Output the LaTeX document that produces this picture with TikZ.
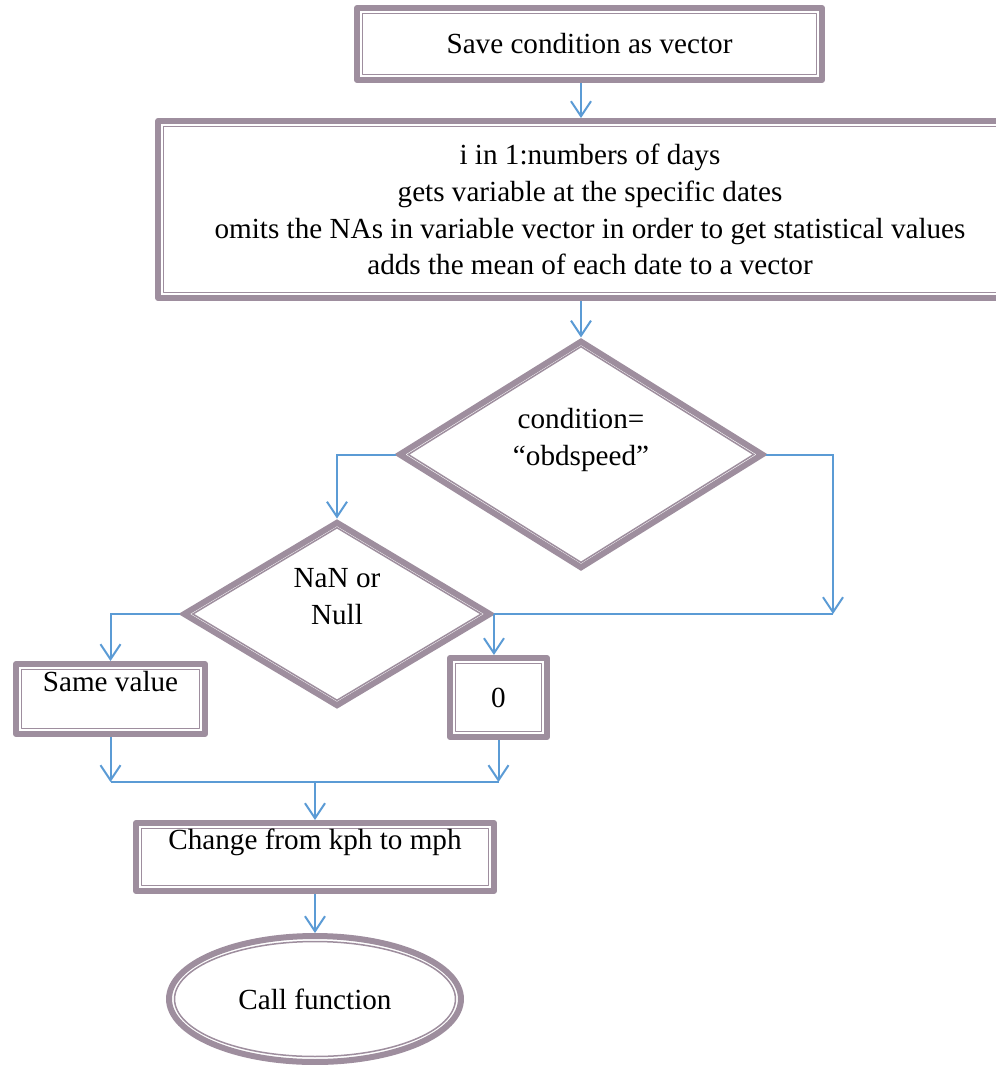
\documentclass[tikz,border=0pt]{standalone}
\usepackage{fontspec}
\setmainfont{Liberation Serif}
\usetikzlibrary{shapes.geometric,arrows.meta}

\definecolor{framegray}{HTML}{9E8E9E}
\definecolor{flowblue}{HTML}{5B9BD5}

\tikzset{
  boxframe/.style={draw=framegray, line width=0.12cm, line join=round, fill=white,
    inner sep=0pt, align=center, font=\fontsize{16.6}{21}\selectfont},
  stepbox/.style={boxframe, rectangle,
    path picture={\draw[framegray, line width=0.03cm]
      ([shift={(0.11cm,-0.11cm)}]path picture bounding box.north west) rectangle
      ([shift={(-0.11cm,0.11cm)}]path picture bounding box.south east);}},
  decision/.style={boxframe, diamond, line join=miter,
    path picture={\draw[framegray, line width=0.03cm]
      ([yshift=-0.1cm]path picture bounding box.north) --
      ([xshift=-0.17cm]path picture bounding box.east) --
      ([yshift=0.1cm]path picture bounding box.south) --
      ([xshift=0.17cm]path picture bounding box.west) -- cycle;}},
  terminal/.style={boxframe, ellipse,
    path picture={\draw[framegray, line width=0.03cm]
      (path picture bounding box.center) ellipse [x radius=2.81cm, y radius=1.15cm];}},
  raised/.style={text depth=0.7cm},
  flow/.style={flowblue, line width=0.04cm},
  flowarrow/.style={flow, -{Straight Barb[length=0.3cm, width=0.4cm]}}
}

\begin{document}
\begin{tikzpicture}[x=0.02cm, y=-0.02cm]
\useasboundingbox (0,0) rectangle (996,1065);

% boxes
\node[stepbox, minimum width=9.3cm, minimum height=1.44cm] (save) at (589.5,44) {Save condition as vector};
\node[stepbox, minimum width=17.28cm, minimum height=3.54cm] (loop) at (590,209.5)
  {i in 1:numbers of days\\gets variable at the specific dates\\omits the NAs in variable vector in order to get statistical values\\adds the mean of each date to a vector};
\node[decision, minimum width=7.3cm, minimum height=4.44cm, raised] (cond) at (581,454.5) {condition=\\“obdspeed”};
\node[decision, minimum width=6.16cm, minimum height=3.7cm, raised] (nan) at (337,614) {NaN or\\Null};
\node[stepbox, minimum width=3.78cm, minimum height=1.4cm, raised] (same) at (110.5,699) {Same value};
\node[stepbox, minimum width=1.94cm, minimum height=1.58cm] (zero) at (498.5,697.5) {0};
\node[stepbox, minimum width=7.16cm, minimum height=1.36cm, raised] (change) at (315,857) {Change from kph to mph};
\node[terminal, minimum width=5.84cm, minimum height=2.52cm] (call) at (315,999) {Call function};

\coordinate (join) at (833,614);
\coordinate (merge) at (315,782);

% connectors
\draw[flowarrow] (save.south -| cond) -- (loop.north -| cond);
\draw[flowarrow] (loop.south -| cond) -- (cond.north);
\draw[flowarrow] (cond.west) -| (nan.north);
\draw[flowarrow] (cond.east) -| (join);
\draw[flow] (nan.east) -- (join);
\draw[flowarrow] (nan.east) -- (nan.east |- zero.north);
\draw[flowarrow] (nan.west) -| (same.north);
\draw[flowarrow] (same.south) -- (same.south |- merge);
\draw[flowarrow] (zero.south) -- (zero.south |- merge);
\draw[flow] (same.south |- merge) -- (zero.south |- merge);
\draw[flowarrow] (merge) -- (change.north);
\draw[flowarrow] (change.south) -- (call.north);
\end{tikzpicture}
\end{document}
